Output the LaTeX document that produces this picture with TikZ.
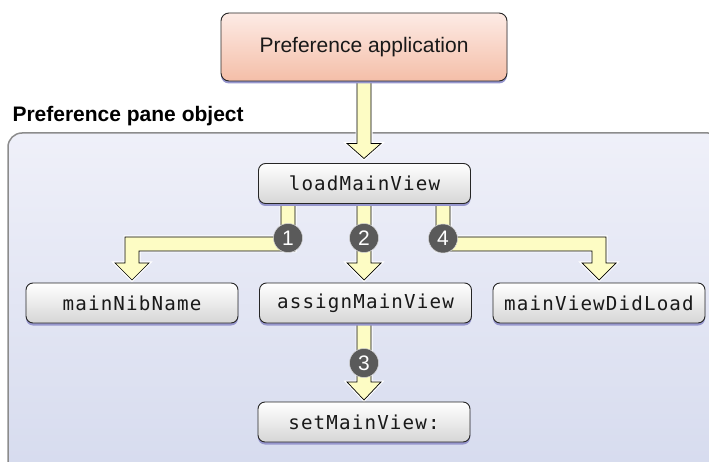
\documentclass[tikz,border=0pt]{standalone}
\usepackage{fontspec}
\setmainfont{Liberation Sans}
\newfontfamily\monofont[LetterSpace=6]{DejaVu Sans Mono}
\usetikzlibrary{calc,shadows}
\definecolor{shadowc}{RGB}{150,150,205}
\definecolor{arrowc}{RGB}{253,252,196}
\definecolor{panetop}{RGB}{239,240,249}
\definecolor{panebot}{RGB}{214,219,238}
\definecolor{apptop}{RGB}{253,235,229}
\definecolor{appbot}{RGB}{244,190,168}
\definecolor{badgec}{RGB}{90,90,90}
\definecolor{paneborder}{RGB}{140,140,140}
\pgfdeclarelayer{panel}
\pgfdeclarelayer{arrows}
\pgfsetlayers{panel,arrows,main}
\begin{document}
\begin{tikzpicture}[x=1pt,y=1pt,
  method/.style={draw=black!85, line width=0.9pt, rounded corners=7pt,
    top color=white, bottom color=black!16, minimum width=212pt, minimum height=40pt,
    inner sep=0pt, outer sep=0pt, text=black!90,
    font=\monofont\fontsize{19.2}{24}\selectfont,
    drop shadow={shadow xshift=0pt,shadow yshift=-2.5pt,fill=shadowc,opacity=1}},
  appbox/.style={draw=black!85, line width=0.9pt, rounded corners=8pt,
    top color=apptop, bottom color=appbot, minimum width=286pt, minimum height=68pt,
    inner sep=0pt, outer sep=0pt, text=black!90,
    font=\fontsize{21}{24}\selectfont,
    drop shadow={shadow xshift=0pt,shadow yshift=-2.5pt,fill=shadowc,opacity=1}},
  fat/.style={fill=arrowc, draw=black, line width=0.7pt, line join=miter,
    preaction={draw=white, line width=3pt}},
  badge/.style={circle, fill=badgec, draw=white!75!badgec, line width=0.5pt,
    minimum size=29pt, inner sep=0pt, text=white, font=\fontsize{21}{21}\selectfont},
  panebox/.style={draw=paneborder, line width=1.5pt, rounded corners=14pt,
    top color=panetop, bottom color=panebot},
  panetitle/.style={anchor=base west, font=\bfseries\fontsize{21}{24}\selectfont}
]
\useasboundingbox (0,0) rectangle (709,-462);

% nodes
\node[appbox] (app) at (364,-47) {Preference application};
\node[panetitle] (ptitle) at (9,-122) {Preference pane object};
\node[method] (load) at (364.5,-183.5) {loadMainView};
\node[method] (nib) at (132,-303) {mainNibName};
\node[method] (assign) at (365.5,-303) {assignMainView};
\node[method] (did) at (599,-303) {mainViewDidLoad};
\node[method] (set) at (364,-422) {setMainView:};

% pane
\begin{pgfonlayer}{panel}
  \clip (0,0) rectangle (709,-462);
  \path[panebox] (8,-133) rectangle (722,-475);
\end{pgfonlayer}

% helper coordinates
\coordinate (s0) at ($(app.south)+(0,1pt)$);
\coordinate (t0) at ($(load.north)+(0,5pt)$);
\coordinate (s1) at ($(load.south)+(-76.5pt,5pt)$);
\coordinate (t1) at ($(nib.north)+(0,3pt)$);
\coordinate (s2) at ($(load.south)+(-0.5pt,5pt)$);
\coordinate (t2) at ($(assign.north)+(-1.5pt,3pt)$);
\coordinate (s4) at ($(load.south)+(78.5pt,5pt)$);
\coordinate (t4) at ($(did.north)+(0,3pt)$);
\coordinate (s3) at ($(assign.south)+(-1.5pt,5pt)$);
\coordinate (t3) at ($(set.north)+(0,2pt)$);
\coordinate (h1) at ($(load.south)+(0,-40.5pt)$);

\begin{pgfonlayer}{arrows}
  % app -> load
  \draw[fat] let \p1=(s0), \p2=(t0) in
    (\x1-7pt,\y1) -- (\x1-7pt,\y2+15pt) -- (\x1-17pt,\y2+15pt) -- (\x1,\y2)
    -- (\x1+17pt,\y2+15pt) -- (\x1+7pt,\y2+15pt) -- (\x1+7pt,\y1) -- cycle;
  % load -> nib
  \draw[fat] let \p1=(s1), \p2=(t1), \p3=(h1) in
    (\x1-7pt,\y1) -- (\x1-7pt,\y3+7pt) -- (\x2-7pt,\y3+7pt) -- (\x2-7pt,\y2+17pt)
    -- (\x2-17pt,\y2+17pt) -- (\x2,\y2) -- (\x2+17pt,\y2+17pt) -- (\x2+7pt,\y2+17pt)
    -- (\x2+7pt,\y3-7pt) -- (\x1+7pt,\y3-7pt) -- (\x1+7pt,\y1) -- cycle;
  % load -> did
  \draw[fat] let \p1=(s4), \p2=(t4), \p3=(h1) in
    (\x1-7pt,\y1) -- (\x1-7pt,\y3-7pt) -- (\x2-7pt,\y3-7pt) -- (\x2-7pt,\y2+17pt)
    -- (\x2-17pt,\y2+17pt) -- (\x2,\y2) -- (\x2+17pt,\y2+17pt) -- (\x2+7pt,\y2+17pt)
    -- (\x2+7pt,\y3+7pt) -- (\x1+7pt,\y3+7pt) -- (\x1+7pt,\y1) -- cycle;
  % load -> assign
  \draw[fat] let \p1=(s2), \p2=(t2) in
    (\x1-7pt,\y1) -- (\x1-7pt,\y2+17pt) -- (\x1-17pt,\y2+17pt) -- (\x1,\y2)
    -- (\x1+17pt,\y2+17pt) -- (\x1+7pt,\y2+17pt) -- (\x1+7pt,\y1) -- cycle;
  % assign -> set
  \draw[fat] let \p1=(s3), \p2=(t3) in
    (\x1-7pt,\y1) -- (\x1-7pt,\y2+18pt) -- (\x1-17pt,\y2+18pt) -- (\x1,\y2)
    -- (\x1+17pt,\y2+18pt) -- (\x1+7pt,\y2+18pt) -- (\x1+7pt,\y1) -- cycle;
\end{pgfonlayer}

% badges
\node[badge] (b1) at ($(load.south)+(-76.5pt,-34.5pt)$) {1};
\node[badge] (b2) at ($(load.south)+(-0.5pt,-34.5pt)$) {2};
\node[badge] (b4) at ($(load.south)+(78.5pt,-35pt)$) {4};
\node[badge] (b3) at ($(assign.south)+(-1.5pt,-40pt)$) {3};
\end{tikzpicture}
\end{document}
